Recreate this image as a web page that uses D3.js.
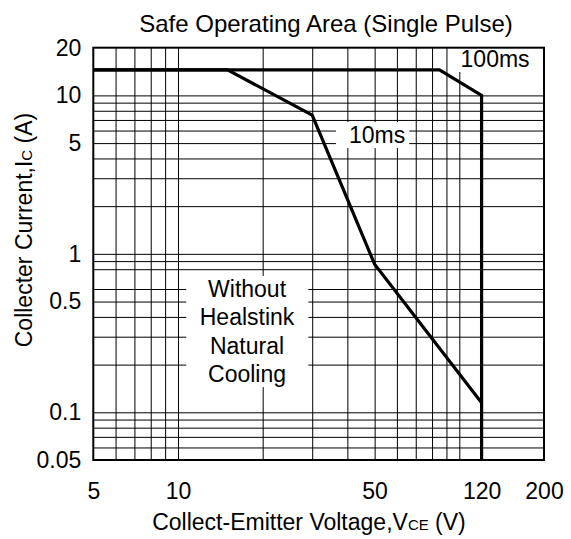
<!DOCTYPE html>
<html lang="en">
<head>
<meta charset="utf-8">
<title>Safe Operating Area</title>
<script src="https://d3js.org/d3.v7.min.js"></script>
<style>
  body { margin: 0; background: white; }
  svg { display: block; font-family: 'Liberation Sans', Arial, sans-serif; }
</style>
</head>
<body>
<div class="chart"></div>
<script>
// axis ticks and grid
const xTicks = [5, 10, 50, 120, 200];
const yTicks = [0.05, 0.1, 0.5, 1, 5, 10, 20];
const xGrid = [6, 7, 8, 9, 10, 20, 30, 40, 50, 60, 70, 80, 90, 100];
const yGrid = [0.06, 0.07, 0.08, 0.09, 0.1, 0.2, 0.3, 0.4, 0.5, 0.6, 0.8, 0.9, 1, 2, 3, 4, 5, 6, 7, 8, 9, 10];

// curves (V, A)
const v10ms = [5, 15, 30, 50, 120];
const i10ms = [14.5, 14.5, 7.5, 0.86, 0.115];
const v100ms = [5, 85, 120, 120];
const i100ms = [14.5, 14.5, 10, 0.05];

// labels in data units (baseline of first line)
const labels = [
  { lines: ["100ms"], v: 134, i: 15.1 },
  { lines: ["10ms"], v: 51, i: 5.0 },
  { lines: ["Without", "Healstink", "Natural", "Cooling"], v: 17.6, i: 0.535 }
];

const width = 571, height = 539;
const m = { left: 93.3, right: 544, top: 47.7, bottom: 460 };

const svg = d3.select(".chart").append("svg")
  .attr("width", width)
  .attr("height", height);

const x = d3.scaleLog().domain([5, 200]).range([m.left, m.right]);
const y = d3.scaleLog().domain([0.05, 20]).range([m.bottom, m.top]);

// grid lines
svg.append("g")
  .attr("transform", "translate(0," + m.bottom + ")")
  .call(d3.axisBottom(x).tickValues(xGrid).tickSize(-(m.bottom - m.top)).tickFormat(""))
  .call(g => g.select(".domain").remove())
  .selectAll("line").attr("stroke", "#000").attr("stroke-width", 1);

svg.append("g")
  .attr("transform", "translate(" + m.left + ",0)")
  .call(d3.axisLeft(y).tickValues(yGrid).tickSize(-(m.right - m.left)).tickFormat(""))
  .call(g => g.select(".domain").remove())
  .selectAll("line").attr("stroke", "#000").attr("stroke-width", 1);

// label boxes + text
const pads = [[8, 6, 2, 0], [13, 4, 0, 0], [13.5, 13.5, 0, 0]]; // left, right, top, bottom
const lineH = 28.4;
labels.forEach((d, k) => {
  const g = svg.append("g");
  const t = g.append("text")
    .attr("x", x(d.v))
    .attr("y", y(d.i))
    .attr("text-anchor", "middle")
    .style("font-size", "23px");
  d.lines.forEach((s, j) => {
    t.append("tspan").attr("x", x(d.v)).attr("dy", j === 0 ? 0 : lineH).text(s);
  });
  const b = t.node().getBBox();
  const p = pads[k];
  g.insert("rect", "text")
    .attr("x", b.x - p[0])
    .attr("y", b.y - p[2])
    .attr("width", b.width + p[0] + p[1])
    .attr("height", b.height + p[2] + p[3])
    .attr("fill", "white");
});

// frame
svg.append("rect")
  .attr("x", m.left).attr("y", m.top)
  .attr("width", m.right - m.left).attr("height", m.bottom - m.top)
  .attr("fill", "none").attr("stroke", "#000").attr("stroke-width", 2);

// curves
const line = d3.line().x(d => x(d[0])).y(d => y(d[1]));
[[v10ms, i10ms], [v100ms, i100ms]].forEach(([vs, is]) => {
  svg.append("path")
    .datum(vs.map((v, j) => [v, is[j]]))
    .attr("d", line)
    .attr("fill", "none")
    .attr("stroke", "#000")
    .attr("stroke-width", 3.2)
    .attr("stroke-linejoin", "miter");
});

// tick labels
svg.append("g")
  .attr("transform", "translate(0," + m.bottom + ")")
  .call(d3.axisBottom(x).tickValues(xTicks).tickSize(0).tickPadding(23).tickFormat(d3.format("")))
  .call(g => g.select(".domain").remove())
  .selectAll("text").style("font-size", "23px").attr("fill", "#000")
  .style("font-family", "'Liberation Sans', Arial, sans-serif");

svg.append("g")
  .attr("transform", "translate(" + m.left + ",0)")
  .call(d3.axisLeft(y).tickValues(yTicks).tickSize(0).tickPadding(12).tickFormat(d3.format("")))
  .call(g => g.select(".domain").remove())
  .selectAll("text").style("font-size", "23px").attr("fill", "#000")
  .style("font-family", "'Liberation Sans', Arial, sans-serif");

// title
svg.append("text")
  .attr("x", 326).attr("y", 32)
  .attr("text-anchor", "middle")
  .style("font-size", "24px")
  .text("Safe Operating Area (Single Pulse)");

// x axis title
const xt = svg.append("text")
  .attr("x", 309).attr("y", 530)
  .attr("text-anchor", "middle")
  .style("font-size", "23px");
xt.append("tspan").text("Collect-Emitter Voltage,V");
xt.append("tspan").style("font-size", "15px").text("CE");
xt.append("tspan").text(" (V)");

// y axis title
const yt = svg.append("text")
  .attr("transform", "translate(32,230) rotate(-90)")
  .attr("text-anchor", "middle")
  .style("font-size", "23px");
yt.append("tspan").text("Collecter Current,I");
yt.append("tspan").style("font-size", "15px").text("C");
yt.append("tspan").text(" (A)");
</script>
</body>
</html>
